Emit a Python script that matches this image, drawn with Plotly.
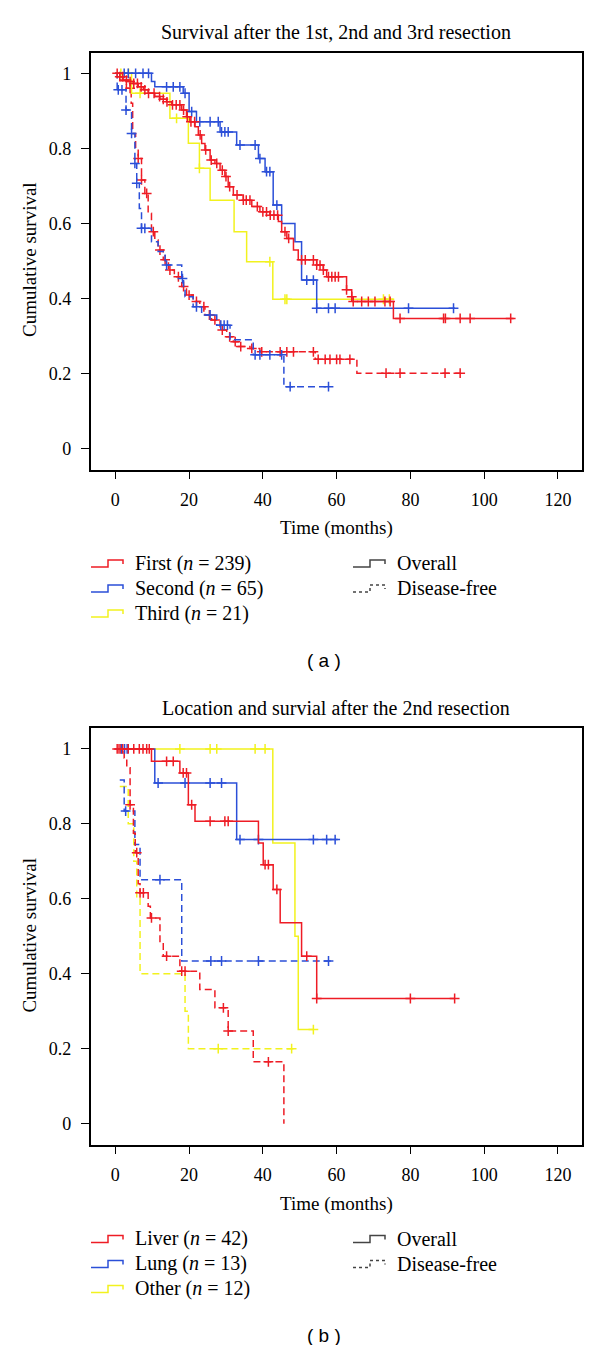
import numpy as np
import plotly.graph_objects as go

# ---- panel (a): survival after the 1st, 2nd and 3rd resection ----
first_os_t = [0, 1.2, 2.1, 3.5, 4.9, 6.2, 7.6, 8.9, 10.7, 12.1, 13.9, 15.3, 18.0, 19.3, 20.2, 21.6,
              22.5, 23.4, 24.3, 25.7, 27.0, 28.4, 29.7, 30.6, 32.0, 34.7, 37.0, 39.2, 41.9, 44.2,
              45.1, 46.5, 48.3, 49.6, 54.6, 56.4, 57.3, 62.7, 64.1, 64.5, 75.4]
first_os_s = [1, 0.991, 0.982, 0.978, 0.973, 0.964, 0.956, 0.947, 0.938, 0.931, 0.924, 0.916, 0.902,
              0.884, 0.871, 0.858, 0.836, 0.813, 0.796, 0.769, 0.760, 0.742, 0.725, 0.698, 0.676,
              0.662, 0.645, 0.631, 0.622, 0.605, 0.578, 0.560, 0.529, 0.503, 0.489, 0.476, 0.458,
              0.423, 0.405, 0.392, 0.347]
first_os_end = 108
first_os_cens = [0.5, 1.2, 2.0, 3.0, 4.0, 5.0, 6.0, 7.0, 8.0, 9.0, 10.5, 12.0, 13.0, 14.0, 15.5, 16.5,
                 17.5, 18.5, 19.5, 20.5, 21.5, 23.0, 24.5, 26.0, 27.5, 29.0, 30.0, 31.0, 33.0, 34.7,
                 35.5, 36.5, 38.5, 40.0, 41.0, 42.0, 43.0, 44.0, 46.0, 47.0, 50.5, 51.5, 53.7, 54.6,
                 55.5, 56.4, 57.8, 58.7, 59.6, 60.5, 62.7, 64.1, 64.5, 66.8, 68.6, 70.4, 73.1, 74.5,
                 77.2, 89.0, 89.5, 93.5, 96.2, 107.2]

second_os_t = [0, 9.8, 10.7, 18.4, 20.0, 22.0, 28.4, 32.9, 38.8, 40.6, 42.8, 45.1, 48.7, 50.5, 54.6]
second_os_s = [1, 0.978, 0.964, 0.947, 0.898, 0.871, 0.844, 0.809, 0.773, 0.738, 0.649, 0.600,
               0.551, 0.449, 0.374]
second_os_end = 92.1
second_os_cens = [2.4, 3.5, 5.5, 7.5, 9.0, 13.9, 15.7, 17.5, 18.9, 20.7, 22.9, 25.7, 27.9, 28.8,
                  29.7, 30.6, 33.8, 37.9, 39.2, 41.0, 41.9, 43.8, 51.9, 53.7, 54.6, 57.8, 59.6,
                  79.5, 91.7]

third_os_t = [0, 4.4, 14.8, 19.8, 22.8, 25.7, 32.2, 35.6, 42.7]
third_os_s = [1, 0.947, 0.880, 0.814, 0.747, 0.662, 0.578, 0.498, 0.398]
third_os_end = 75.4
third_os_cens = [1.5, 3.6, 6.7, 16.6, 22.8, 41.9, 46.0, 46.5, 72.7, 74.3]

first_df_t = [0, 1.5, 3.0, 4.3, 4.7, 5.5, 6.2, 7.1, 8.0, 8.9, 9.8, 10.7, 11.6, 13.0, 14.4, 16.0,
              18.0, 19.3, 21.1, 22.9, 24.3, 26.1, 28.4, 30.2, 32.0, 33.3, 36.5, 39.2, 54.2, 65.5]
first_df_s = [1, 0.98, 0.96, 0.92, 0.84, 0.80, 0.773, 0.716, 0.680, 0.627, 0.578, 0.556, 0.529,
              0.503, 0.476, 0.458, 0.432, 0.409, 0.392, 0.378, 0.356, 0.343, 0.316, 0.298, 0.285,
              0.272, 0.267, 0.258, 0.238, 0.201]
first_df_end = 93.5
first_df_cens = [4.0, 6.2, 7.1, 8.5, 10.3, 12.1, 13.5, 14.8, 17.1, 18.5, 20.0, 22.0, 24.0, 25.5,
                 27.0, 29.0, 31.0, 32.5, 34.0, 37.0, 39.7, 44.7, 46.5, 48.3, 53.7, 55.0, 56.9,
                 58.2, 60.0, 60.9, 63.6, 73.4, 77.2, 89.4, 93.5]

second_df_t = [0, 0.5, 2.9, 4.4, 5.3, 5.8, 6.5, 7.1, 9.8, 11.6, 13.5, 18.0, 18.5, 18.9, 21.1,
               23.4, 27.5, 31.1, 37.4, 45.7]
second_df_s = [1, 0.956, 0.902, 0.840, 0.760, 0.707, 0.640, 0.587, 0.551, 0.525, 0.489, 0.453,
               0.427, 0.405, 0.378, 0.356, 0.329, 0.290, 0.250, 0.165]
second_df_end = 57.8
second_df_cens = [0.8, 1.8, 2.9, 4.4, 5.3, 5.8, 7.1, 8.0, 13.9, 18.2, 22.0, 25.7, 28.6, 29.5,
                  30.4, 37.9, 39.2, 41.9, 45.1, 47.4, 57.8]

# ---- panel (b): location and survival after the 2nd resection ----
liver_os_t = [0, 9.8, 17.5, 19.8, 21.6, 38.8, 40.1, 42.8, 44.7, 50.5, 54.6]
liver_os_s = [1, 0.967, 0.936, 0.851, 0.807, 0.749, 0.691, 0.625, 0.536, 0.447, 0.334]
liver_os_end = 92
liver_os_cens = [1.0, 2.0, 3.5, 5.0, 6.5, 7.5, 8.5, 9.2, 13.9, 15.7, 18.4, 19.3, 20.7, 25.7,
                 29.7, 30.6, 40.6, 41.5, 43.8, 51.9, 54.6, 80, 92]

lung_os_t = [0, 10.7, 32.9]
lung_os_s = [1, 0.909, 0.758]
lung_os_end = 60.3
lung_os_cens = [1.7, 2.5, 3.2, 11.6, 18.9, 25.7, 28.8, 33.8, 38.8, 53.7, 57.3, 59.6]

other_os_t = [0, 42.7, 48.7, 49.6]
other_os_s = [1, 0.749, 0.500, 0.251]
other_os_end = 53.7
other_os_cens = [17.5, 25.7, 27.5, 37.9, 40.6, 53.7]

liver_df_t = [0, 2.4, 3.1, 4.0, 4.9, 5.4, 6.2, 6.7, 8.9, 9.5, 12.1, 13.0, 17.5, 22.9, 27.0,
              30.6, 37.4, 45.7]
liver_df_s = [1, 0.976, 0.95, 0.851, 0.775, 0.723, 0.64, 0.616, 0.580, 0.549, 0.483, 0.447,
              0.407, 0.358, 0.309, 0.247, 0.165, 0.0]
liver_df_end = 45.7
liver_df_cens = [0.5, 1.5, 4.0, 5.8, 6.7, 7.6, 9.8, 13.9, 18.0, 18.9, 29.3, 30.6, 41.5]

lung_df_t = [1.2, 2.4, 5.3, 6.7, 18.0]
lung_df_s = [0.917, 0.834, 0.745, 0.651, 0.434]
lung_df_end = 58.7
lung_df_cens = [2.8, 12.1, 25.9, 28.8, 38.8, 57.8]

other_df_t = [1.2, 3.5, 5.0, 5.8, 6.7, 18.9, 19.8]
other_df_s = [0.9, 0.8, 0.7, 0.6, 0.4, 0.3, 0.2]
other_df_end = 48.7
other_df_cens = [27.9, 47.8]

x_ticks = [0, 20, 40, 60, 80, 100, 120]
y_ticks = [0, 0.2, 0.4, 0.6, 0.8, 1]
y_ticktext = ["0", "0.2", "0.4", "0.6", "0.8", "1"]

RED = "#ee1c25"
BLUE = "#2b4fd8"
YELLOW = "#f2f21e"
GREY = "#444444"
SERIF = "Liberation Serif"

# the page body keeps its default 8px margin, so the figure is drawn 8px in from the corner
OFF = 8
FW, FH = 600 - 2 * OFF, 1353 - 2 * OFF


def px(x):
    return (x - OFF) / FW


def py(y):
    return 1 - (y - OFF) / FH


def step_line(t, s, end, color, dash, xa, ya):
    return go.Scatter(x=list(t) + [end], y=list(s) + [s[-1]], mode="lines",
                      line=dict(color=color, width=1.5, dash=dash, shape="hv"),
                      xaxis=xa, yaxis=ya, hoverinfo="skip", showlegend=False)


def censor_marks(t, s, cens, color, xa, ya):
    idx = np.searchsorted(np.array(t), np.array(cens), side="right") - 1
    return go.Scatter(x=cens, y=np.array(s)[idx], mode="markers",
                      marker=dict(symbol="cross-thin", size=7, color=color,
                                  line=dict(color=color, width=1.5)),
                      xaxis=xa, yaxis=ya, hoverinfo="skip", showlegend=False)


fig = go.Figure()

DASH = "7px,4px"
panel_a = [
    (first_df_t, first_df_s, first_df_end, first_df_cens, RED, DASH),
    (second_df_t, second_df_s, second_df_end, second_df_cens, BLUE, DASH),
    (third_os_t, third_os_s, third_os_end, third_os_cens, YELLOW, "solid"),
    (second_os_t, second_os_s, second_os_end, second_os_cens, BLUE, "solid"),
    (first_os_t, first_os_s, first_os_end, first_os_cens, RED, "solid"),
]
panel_b = [
    (other_df_t, other_df_s, other_df_end, other_df_cens, YELLOW, DASH),
    (lung_df_t, lung_df_s, lung_df_end, lung_df_cens, BLUE, DASH),
    (liver_df_t, liver_df_s, liver_df_end, liver_df_cens, RED, DASH),
    (other_os_t, other_os_s, other_os_end, other_os_cens, YELLOW, "solid"),
    (lung_os_t, lung_os_s, lung_os_end, lung_os_cens, BLUE, "solid"),
    (liver_os_t, liver_os_s, liver_os_end, liver_os_cens, RED, "solid"),
]
for curves, xa, ya in [(panel_a, "x", "y"), (panel_b, "x2", "y2")]:
    for t, s, end, cens, col, dash in curves:
        fig.add_trace(step_line(t, s, end, col, dash, xa, ya))
        fig.add_trace(censor_marks(t, s, cens, col, xa, ya))

xax = dict(range=[-6.68, 126.4], tickvals=x_ticks, ticks="outside", ticklen=7, tickwidth=1.2,
           tickcolor="black", showline=True, linecolor="black", linewidth=1.5, mirror=True,
           showgrid=False, zeroline=False, domain=[px(90.7), px(581.5)], ticklabelstandoff=6,
           tickfont=dict(family=SERIF, size=18, color="black"))
yax = dict(range=[-0.057, 1.055], tickvals=y_ticks, ticktext=y_ticktext, ticks="outside",
           ticklen=8, tickwidth=1.2, tickcolor="black", showline=True, linecolor="black",
           linewidth=1.5, mirror=True, showgrid=False, zeroline=False, ticklabelstandoff=6,
           tickfont=dict(family=SERIF, size=18, color="black"))

fig.update_layout(
    width=FW, height=FH, margin=dict(l=0, r=0, t=0, b=0),
    paper_bgcolor="white", plot_bgcolor="white", showlegend=False,
    xaxis=dict(xax, anchor="y"),
    yaxis=dict(yax, anchor="x", domain=[py(470), py(52.7)]),
    xaxis2=dict(xax, anchor="y2"),
    yaxis2=dict(yax, anchor="x2", domain=[py(1145), py(728.3)]),
)

annotations = []
shapes = []


def text(x, y, s, size=19, family=SERIF, xanchor="center", angle=0):
    annotations.append(dict(x=px(x), y=py(y), xref="paper", yref="paper", text=s,
                            showarrow=False, xanchor=xanchor, yanchor="middle", textangle=angle,
                            font=dict(family=family, size=size, color="black")))


def icon(x0, yc, color, dashed=False):
    path = (f"M {px(x0)},{py(yc + 4)} L {px(x0 + 17)},{py(yc + 4)} L {px(x0 + 17)},{py(yc - 3)} "
            f"L {px(x0 + 32)},{py(yc - 3)} L {px(x0 + 32)},{py(yc + 1)}")
    shapes.append(dict(type="path", path=path, xref="paper", yref="paper",
                       line=dict(color=color, width=1.5, dash="3px,3px" if dashed else "solid")))


panels = [
    (0, "Survival after the 1st, 2nd and 3rd resection",
     ["First (<i>n</i> = 239)", "Second (<i>n</i> = 65)", "Third (<i>n</i> = 21)"], "( a )"),
    (675.6, "Location and survial after the 2nd resection",
     ["Liver (<i>n</i> = 42)", "Lung (<i>n</i> = 13)", "Other (<i>n</i> = 12)"], "( b )"),
]
for off, title, labels, tag in panels:
    text(336, 32 + off, title, size=20)
    text(30, 260 + off, "Cumulative survival", angle=-90)
    text(336, 528 + off, "Time (months)")
    for i, (lab, col) in enumerate(zip(labels, [RED, BLUE, YELLOW])):
        yc = 563 + 25 * i + off
        icon(91, yc, col)
        text(133, yc, lab, xanchor="left", size=20)
    icon(353, 563 + off, GREY)
    text(395, 563 + off, "Overall", xanchor="left", size=20)
    icon(353, 588 + off, GREY, dashed=True)
    text(395, 588 + off, "Disease-free", xanchor="left", size=20)
    text(324, 660 + off, tag, size=19, family="Liberation Sans")

fig.update_layout(annotations=annotations, shapes=shapes)
fig.write_html("out.html")
